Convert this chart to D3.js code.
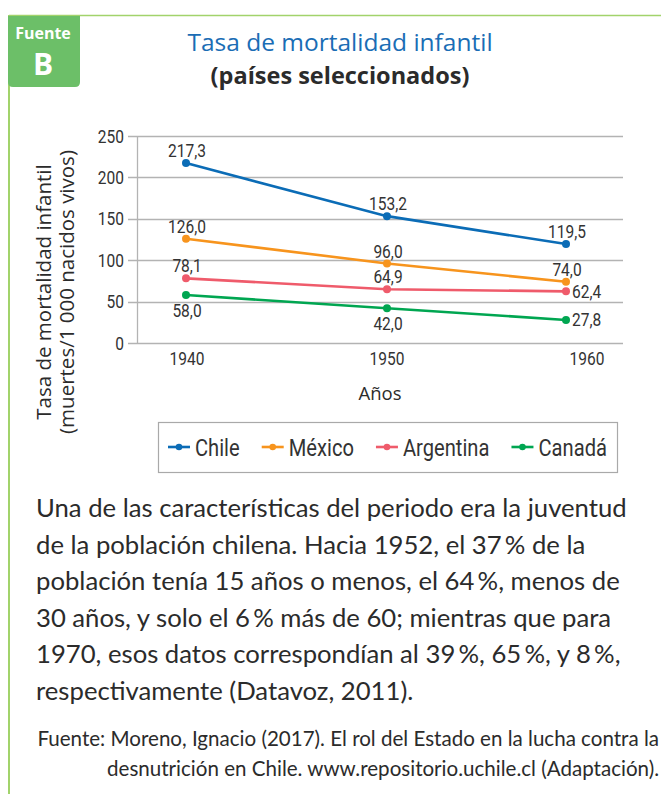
<!DOCTYPE html>
<html><head><meta charset="utf-8">
<script src="https://cdn.jsdelivr.net/npm/d3@7"></script>
<style>body{margin:0;background:#fff}svg{display:block}</style>
</head><body>
<svg id="c" width="661" height="794"></svg>
<script>
// ---- data ----
const years = [1940, 1950, 1960];
const seriesNames = ["Chile", "México", "Argentina", "Canadá"];
const chile = [217.3, 153.2, 119.5];
const mexico = [126.0, 96.0, 74.0];
const argentina = [78.1, 64.9, 62.4];
const canada = [58.0, 42.0, 27.8];
const yTicks = [0, 50, 100, 150, 200, 250];
const labelPlacement = [
  ["above", "above", "above"],
  ["above", "above", "above"],
  ["above", "above", "right"],
  ["below", "below", "right"]
];
const colors = ["#0b6cb6", "#f7941d", "#ef5b6b", "#00a651"];
const titleText = "Tasa de mortalidad infantil";
const subtitleText = "(países seleccionados)";
const yTitle = ["Tasa de mortalidad infantil", "(muertes/1 000 nacidos vivos)"];
const xTitle = "Años";
const paragraph = [
  "Una de las características del periodo era la juventud",
  "de la población chilena. Hacia 1952, el 37\u2009% de la",
  "población tenía 15 años o menos, el 64\u2009%, menos de",
  "30 años, y solo el 6\u2009% más de 60; mientras que para",
  "1970, esos datos correspondían al 39\u2009%, 65\u2009%, y 8\u2009%,",
  "respectivamente (Datavoz, 2011)."
];
const source = [
  "Fuente: Moreno, Ignacio (2017). El rol del Estado en la lucha contra la",
  "desnutrición en Chile. www.repositorio.uchile.cl (Adaptación)."
];

const allSeries = [chile, mexico, argentina, canada];
const fmt = v => d3.format(".1f")(v).replace(".", ",");

const svg = d3.select("#c");
const narrow = "Roboto,'Liberation Sans',sans-serif";
const NX = 0.84; // horizontal condensing factor for the chart's narrow labels
const humanist = "'Open Sans','Noto Sans',sans-serif";
const bodyFont = "Lato,'Open Sans',sans-serif";
const green = "#a2d36b";
const ink = "#333";

// ---- frame ----
svg.append("line").attr("x1", 9).attr("x2", 661).attr("y1", 15.5).attr("y2", 15.5)
  .attr("stroke", green).attr("stroke-width", 1.5);
svg.append("line").attr("x1", 9).attr("x2", 9).attr("y1", 15).attr("y2", 794)
  .attr("stroke", green).attr("stroke-width", 2);
svg.append("path")
  .attr("d", "M8,16 H80 V82 Q80,87 75,87 H13 Q8,87 8,82 Z")
  .attr("fill", "#6cbf68");
svg.append("text").attr("x", 43).attr("y", 39).attr("text-anchor", "middle")
  .attr("font-family", humanist).attr("font-weight", 700).attr("font-size", 16)
  .attr("fill", "#fff").text("Fuente");
svg.append("text").attr("x", 43).attr("y", 75).attr("text-anchor", "middle")
  .attr("font-family", humanist).attr("font-weight", 700).attr("font-size", 30)
  .attr("fill", "#fff").text("B");

// ---- titles ----
svg.append("text").attr("x", 340).attr("y", 51).attr("text-anchor", "middle")
  .attr("font-family", humanist).attr("font-size", 24.5).attr("fill", "#1a6db5").text(titleText);
svg.append("text").attr("x", 340).attr("y", 83.5).attr("text-anchor", "middle")
  .attr("font-family", humanist).attr("font-weight", 700).attr("font-size", 23.5)
  .attr("fill", "#2b2b2b").text(subtitleText);

// ---- scales ----
const y = d3.scaleLinear().domain([0, 250]).range([343, 136]);
const xAxisScale = d3.scalePoint().domain(years).range([187, 587]);
const xMark = d3.scaleLinear().domain(years).range([186, 387, 566]);
const plotLeft = 137.5, plotRight = 623;

const nt = (x, yy) => `translate(${x},${yy}) scale(${NX},1)`;

// grid
const g = svg.append("g");
g.selectAll("line.grid").data(yTicks).join("line")
  .attr("x1", 128).attr("x2", plotRight)
  .attr("y1", d => Math.round(y(d)) + 0.5).attr("y2", d => Math.round(y(d)) + 0.5)
  .attr("stroke", "#b3b3b3").attr("stroke-width", 1.3);
g.append("line").attr("x1", plotLeft).attr("x2", plotLeft)
  .attr("y1", y(250)).attr("y2", y(0) + 1)
  .attr("stroke", "#b3b3b3").attr("stroke-width", 1.3);
// y tick labels
g.selectAll("text.yt").data(yTicks).join("text")
  .attr("transform", d => nt(124, y(d) + 6.5)).attr("text-anchor", "end")
  .attr("font-family", narrow).attr("font-size", 18.5).attr("fill", ink).text(d => d);
// x tick labels
g.selectAll("text.xt").data(years).join("text")
  .attr("transform", d => nt(xAxisScale(d), 365)).attr("text-anchor", "middle")
  .attr("font-family", narrow).attr("font-size", 18.5).attr("fill", ink).text(d => d);
// axis titles
svg.append("text").attr("x", 380).attr("y", 400).attr("text-anchor", "middle")
  .attr("font-family", humanist).attr("font-size", 18.5).attr("fill", "#2b2b2b").text(xTitle);
const yt = svg.append("text").attr("transform", "translate(0,292) rotate(-90)")
  .attr("text-anchor", "middle").attr("font-family", humanist).attr("font-size", 20.5)
  .attr("fill", "#2b2b2b");
yt.append("tspan").attr("x", 0).attr("y", 51).text(yTitle[0]);
yt.append("tspan").attr("x", 0).attr("y", 74).text(yTitle[1]);

// ---- lines ----
const line = d3.line().x((d, i) => xMark(years[i])).y(d => y(d));
allSeries.forEach((vals, si) => {
  const sg = svg.append("g");
  sg.append("path").datum(vals).attr("d", line).attr("fill", "none")
    .attr("stroke", colors[si]).attr("stroke-width", 2.6);
  sg.selectAll("circle").data(vals).join("circle")
    .attr("cx", (d, i) => xMark(years[i])).attr("cy", d => y(d)).attr("r", 4)
    .attr("fill", colors[si]);
  sg.selectAll("text").data(vals).join("text")
    .attr("transform", (d, i) => {
      const p = labelPlacement[si][i];
      const lx = p === "right" ? xMark(years[i]) + 6 : xMark(years[i]) + 1;
      const ly = p === "above" ? y(d) - 6 : p === "below" ? y(d) + 22 : y(d) + 6.5;
      return nt(lx, ly);
    })
    .attr("text-anchor", (d, i) => labelPlacement[si][i] === "right" ? "start" : "middle")
    .attr("font-family", narrow).attr("font-size", 18.5).attr("fill", ink)
    .text(d => fmt(d));
});

// ---- legend ----
const leg = svg.append("g");
leg.append("rect").attr("x", 158.5).attr("y", 422.5).attr("width", 459).attr("height", 50)
  .attr("fill", "#fff").attr("stroke", "#a9a9a9").attr("stroke-width", 1.2);
let lx = 168;
seriesNames.forEach((name, i) => {
  leg.append("line").attr("x1", lx).attr("x2", lx + 22).attr("y1", 447).attr("y2", 447)
    .attr("stroke", colors[i]).attr("stroke-width", 2.6);
  leg.append("circle").attr("cx", lx + 11).attr("cy", 447).attr("r", 3.3).attr("fill", colors[i]);
  const t = leg.append("text").attr("transform", nt(lx + 27, 456))
    .attr("font-family", narrow).attr("font-size", 24).attr("fill", ink).text(name);
  lx = lx + 27 + t.node().getComputedTextLength() * NX + 22;
});

// ---- paragraph ----
const para = svg.append("g");
const pLines = para.selectAll("text").data(paragraph).join("text")
  .attr("x", 36).attr("y", (d, i) => 517 + i * 36.6)
  .attr("font-family", bodyFont).attr("font-size", 24).attr("fill", "#2b2b2b").text(d => d);
const w0 = pLines.node().getComputedTextLength();
pLines.attr("font-size", 24 * 591 / w0);

const src = svg.append("g");
const sLines = src.selectAll("text").data(source).join("text")
  .attr("x", 659).attr("y", (d, i) => 746 + i * 30).attr("text-anchor", "end")
  .attr("font-family", bodyFont).attr("font-size", 18).attr("fill", "#2b2b2b").text(d => d);
const w1 = sLines.node().getComputedTextLength();
sLines.attr("font-size", 18 * 622 / w1);
</script>
</body></html>
